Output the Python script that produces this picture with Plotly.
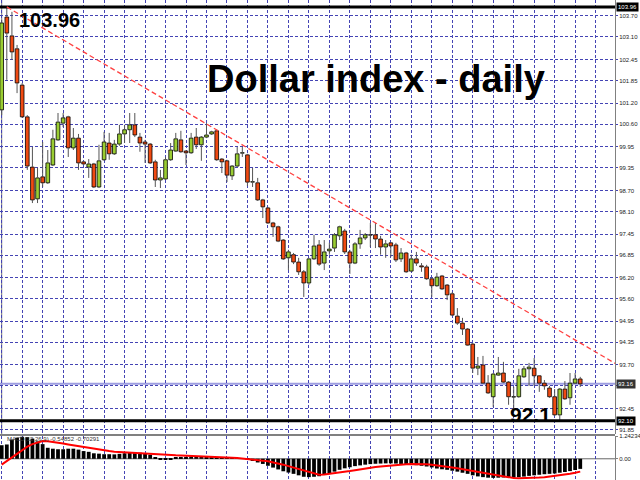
import plotly.graph_objects as go

# ---------------- data ----------------
opens = [101.01, 103.67, 103.13, 102.76, 101.72, 100.81, 99.37, 98.46, 99.09, 98.92,
         99.43, 100.15, 100.63, 100.81, 99.92, 100.20, 99.52, 99.37, 99.46, 98.80,
         99.58, 100.06, 99.75, 100.03, 100.32, 100.44, 100.58, 100.23, 100.09, 100.03,
         99.52, 99.00, 99.03, 99.58, 99.83, 100.15, 99.83, 99.78, 100.23, 100.01,
         100.23, 100.32, 100.41, 99.60, 99.55, 99.12, 99.40, 99.77, 99.72, 98.94,
         98.92, 98.43, 98.20, 97.77, 97.66, 97.28, 96.77, 96.86, 96.65, 96.37,
         96.05, 96.74, 97.14, 96.62, 96.97, 97.05, 97.40, 97.54, 96.94, 96.62,
         97.17, 97.34, 97.42, 97.43, 97.31, 97.08, 97.20, 97.14, 96.74, 96.91,
         96.39, 96.74, 96.54, 96.51, 96.17, 95.97, 96.25, 95.99, 95.74, 95.10,
         94.90, 94.73, 94.30, 93.61, 93.70, 93.18, 92.79, 93.41, 93.47, 93.21,
         92.78, 92.79, 93.36, 93.59, 93.61, 93.39, 93.18, 93.04, 92.79, 92.27,
         93.01, 92.76, 93.18, 93.30]
highs = [103.59, 103.96, 103.82, 102.87, 101.78, 100.86, 99.95, 99.35, 100.09, 99.86,
         100.44, 100.92, 100.92, 100.84, 100.49, 100.32, 99.55, 99.60, 99.49, 100.01,
         100.38, 100.35, 100.15, 100.58, 100.58, 100.92, 100.92, 100.35, 100.15, 100.06,
         99.58, 99.29, 99.66, 100.06, 100.35, 100.41, 99.86, 100.35, 100.49, 100.26,
         100.63, 100.41, 100.44, 99.63, 99.58, 99.43, 99.95, 99.95, 99.75, 99.35,
         99.06, 98.46, 98.23, 97.80, 97.69, 97.31, 97.00, 96.91, 96.77, 96.42,
         96.77, 97.43, 97.28, 97.28, 97.20, 97.48, 97.69, 97.60, 97.00, 97.22,
         97.57, 97.48, 97.77, 97.77, 97.40, 97.28, 97.22, 97.20, 97.05, 96.94,
         96.86, 96.94, 96.62, 96.57, 96.20, 96.34, 96.28, 96.02, 95.79, 95.33,
         95.05, 94.76, 94.33, 93.93, 93.96, 93.41, 93.47, 93.93, 93.79, 93.24,
         93.07, 93.59, 93.67, 93.76, 93.90, 93.41, 93.27, 93.10, 93.01, 93.04,
         93.24, 93.47, 93.47, 93.36]
lows = [100.86, 101.87, 102.44, 101.49, 100.78, 99.29, 98.34, 98.34, 98.80, 98.89,
        99.40, 100.12, 100.52, 99.66, 99.86, 99.29, 99.43, 99.06, 98.77, 98.77,
        99.55, 99.58, 99.72, 99.98, 100.06, 100.06, 100.23, 99.81, 99.49, 99.46,
        98.80, 98.77, 99.00, 99.55, 99.81, 99.78, 99.43, 99.75, 99.89, 99.55,
        100.20, 100.29, 99.55, 99.20, 98.94, 99.00, 99.37, 99.66, 98.83, 98.80,
        98.40, 97.91, 97.74, 97.37, 97.22, 96.71, 96.42, 96.59, 96.28, 95.65,
        95.99, 96.71, 96.54, 96.42, 96.86, 96.94, 97.28, 96.88, 96.31, 96.59,
        97.03, 97.28, 97.08, 97.05, 96.86, 96.77, 96.80, 96.65, 96.65, 96.34,
        96.37, 96.54, 96.37, 96.14, 95.65, 95.94, 95.85, 95.56, 95.10, 94.85,
        94.56, 94.25, 93.47, 93.41, 93.16, 92.87, 92.50, 93.39, 93.18, 92.56,
        92.35, 92.76, 93.33, 93.10, 93.10, 92.93, 92.99, 92.76, 92.24, 92.10,
        92.70, 92.56, 93.16, 93.07]
closes = [103.50, 103.21, 102.67, 101.78, 100.81, 99.40, 98.43, 99.06, 98.92, 99.49,
          100.18, 100.66, 100.78, 99.92, 100.20, 99.49, 99.46, 99.46, 98.80, 99.55,
          100.09, 99.75, 100.03, 100.32, 100.44, 100.58, 100.29, 100.06, 100.03, 99.49,
          99.00, 99.06, 99.58, 99.86, 100.18, 99.81, 99.78, 100.20, 100.01, 100.23,
          100.29, 100.38, 99.58, 99.52, 99.14, 99.40, 99.75, 99.78, 98.94, 98.95,
          98.43, 98.23, 97.77, 97.66, 97.25, 96.74, 96.94, 96.65, 96.37, 96.05,
          96.74, 97.11, 96.59, 96.94, 97.02, 97.43, 97.66, 96.94, 96.62, 97.17,
          97.34, 97.43, 97.43, 97.31, 97.08, 97.17, 97.11, 96.71, 96.91, 96.37,
          96.74, 96.62, 96.51, 96.17, 95.97, 96.22, 95.88, 95.71, 95.13, 94.90,
          94.73, 94.27, 93.61, 93.67, 93.18, 92.90, 93.44, 93.47, 93.21, 92.79,
          92.79, 93.39, 93.59, 93.64, 93.39, 93.18, 93.10, 92.79, 92.27, 93.01,
          92.73, 93.18, 93.30, 93.16]

macd_main = [0.74, 0.78, 1.05, 1.15, 1.2, 1.18, 1.1, 0.95, 0.8, 0.6,
             0.55, 0.52, 0.52, 0.55, 0.55, 0.5, 0.42, 0.38, 0.3, 0.28,
             0.25, 0.25, 0.24, 0.27, 0.3, 0.32, 0.33, 0.33, 0.3, 0.22,
             0.05, -0.05, -0.06, -0.03, 0.05, 0.1, 0.1, 0.12, 0.12, 0.12,
             0.1, 0.1, 0.08, 0.05, 0.03, 0.02, 0.02, 0.0, -0.05, -0.12,
             -0.2, -0.28, -0.38, -0.48, -0.58, -0.68, -0.75, -0.82, -0.9, -0.98,
             -1.0, -0.98, -0.95, -0.88, -0.8, -0.7, -0.6, -0.52, -0.46, -0.4,
             -0.36, -0.32, -0.29, -0.27, -0.26, -0.25, -0.25, -0.26, -0.28, -0.3,
             -0.32, -0.35, -0.38, -0.42, -0.47, -0.53, -0.57, -0.6, -0.65, -0.7,
             -0.76, -0.82, -0.9, -0.96, -1.0, -1.03, -1.04, -1.03, -1.02, -1.02,
             -1.03, -1.0, -0.97, -0.93, -0.9, -0.87, -0.84, -0.82, -0.8, -0.76,
             -0.72, -0.67, -0.61, -0.55]
macd_signal = [-0.32, -0.12, 0.08, 0.3, 0.5, 0.66, 0.8, 0.9, 0.97, 0.96,
               0.93, 0.88, 0.83, 0.78, 0.73, 0.68, 0.63, 0.58, 0.53, 0.49,
               0.45, 0.42, 0.39, 0.37, 0.35, 0.33, 0.31, 0.29, 0.27, 0.25,
               0.24, 0.22, 0.21, 0.2, 0.19, 0.18, 0.17, 0.16, 0.16, 0.15,
               0.15, 0.13, 0.11, 0.09, 0.07, 0.06, 0.04, 0.02, 0.0, -0.03,
               -0.06, -0.1, -0.14, -0.19, -0.25, -0.32, -0.4, -0.48, -0.57, -0.66,
               -0.74, -0.81, -0.87, -0.86, -0.83, -0.8, -0.76, -0.72, -0.67, -0.62,
               -0.57, -0.53, -0.49, -0.45, -0.42, -0.39, -0.36, -0.33, -0.31, -0.3,
               -0.29, -0.28, -0.29, -0.3, -0.32, -0.35, -0.38, -0.42, -0.47, -0.52,
               -0.57, -0.62, -0.67, -0.73, -0.78, -0.83, -0.88, -0.93, -0.98, -1.02,
               -1.05, -1.06, -1.06, -1.05, -1.04, -1.02, -1.0, -0.97, -0.94, -0.9,
               -0.86, -0.81, -0.76, -0.70]

price_ticks = [103.70, 103.10, 102.45, 101.85, 101.20, 100.60, 99.95, 99.35, 98.70, 98.10,
               97.45, 96.85, 96.20, 95.60, 94.95, 94.35, 93.70, 93.10, 92.45, 91.85]
hidden_tick = 93.10   # its label sits under the bid-price box
macd_ticks = [1.24234, 0.0, -1.15585]
macd_tick_text = ["1.24234", "0.00", "-1.15585"]
level_lines = [103.96, 92.10]
bid_price = 93.16
trend_idx = [1, 73]
trend_price = [103.96, 97.77]
title_text = "Dollar index - daily"
high_text = "103.96"
low_text = "92.1"
macd_label = "MACD(12,26,9) -0.54852 -0.70291"

# ---------------- styling ----------------
W, H = 640, 480
R = 25
PLOT_W = W - R
MAIN_BOTTOM_PX = 434
MACD_TOP_PX = 436
PX_PER_UNIT = 34.9
Y_TOP = 104.158
X0 = -0.33
X1 = X0 + PLOT_W / 5.12
UP = "#9acd32"
DOWN = "#f04a12"
GRID = "#4444b4"
FONT = "Liberation Sans"

n = len(closes)
idx = list(range(n))

fig = go.Figure()

# wicks (upper and lower parts, so they don't cross bodies)
wx, wy = [], []
for i, o, h, l, c in zip(idx, opens, highs, lows, closes):
    top, bot = max(o, c), min(o, c)
    wx += [i, i, None, i, i, None]
    wy += [h, top, None, bot, l, None]
fig.add_trace(go.Scatter(x=wx, y=wy, mode="lines", line=dict(color="#555555", width=1),
                         hoverinfo="skip", xaxis="x", yaxis="y"))

bases = [min(o, c) for o, c in zip(opens, closes)]
heights = [max(abs(c - o), 0.012) for o, c in zip(opens, closes)]
colors = [UP if c >= o else DOWN for o, c in zip(opens, closes)]
fig.add_trace(go.Bar(x=idx, y=heights, base=bases, width=0.72,
                     marker=dict(color=colors, line=dict(color="black", width=0.8)),
                     xaxis="x", yaxis="y"))

# MACD
fig.add_trace(go.Bar(x=idx[:len(macd_main)], y=macd_main, width=0.74,
                     marker=dict(color="black", line=dict(width=0)),
                     xaxis="x2", yaxis="y2"))
fig.add_trace(go.Scatter(x=idx[:len(macd_signal)], y=macd_signal, mode="lines",
                         line=dict(color="#ff0000", width=2), xaxis="x2", yaxis="y2"))

main_dom = [1 - MAIN_BOTTOM_PX / H, 1]
macd_dom = [0, 1 - MACD_TOP_PX / H]
grid_x = list(range(0, n + 8, 4))

axis_common = dict(showgrid=True, gridcolor=GRID, griddash="3px,2px", gridwidth=1,
                   zeroline=False)
fig.update_layout(
    width=W, height=H, margin=dict(l=0, r=R, t=0, b=0, autoexpand=False),
    plot_bgcolor="white", paper_bgcolor="white", showlegend=False,
    barmode="overlay",
    xaxis=dict(domain=[0, 1], range=[X0, X1], anchor="y", tickvals=grid_x,
               showticklabels=False, ticks="", **axis_common),
    xaxis2=dict(domain=[0, 1], range=[X0, X1], anchor="y2", matches="x", tickvals=grid_x,
                showticklabels=False, ticks="", **axis_common),
    yaxis=dict(domain=main_dom, range=[Y_TOP - MAIN_BOTTOM_PX / PX_PER_UNIT, Y_TOP],
               side="right", tickvals=price_ticks,
               ticktext=["" if v == hidden_tick else "%.2f" % v for v in price_ticks],
               tickfont=dict(family=FONT, size=6, color="#222222"),
               ticks="outside", ticklen=2, tickcolor=GRID, automargin=False,
               showline=True, linecolor="#808080", linewidth=1, **axis_common),
    yaxis2=dict(domain=macd_dom, range=[macd_ticks[2], macd_ticks[0]], side="right",
                tickvals=macd_ticks, ticktext=macd_tick_text,
                tickfont=dict(family=FONT, size=6, color="#222222"),
                ticks="outside", ticklen=2, tickcolor="#808080", automargin=False,
                showline=True, linecolor="#808080", linewidth=1,
                showgrid=False, zeroline=False),
)

shapes = []
# left border line at first candle
shapes.append(dict(type="line", xref="x", yref="paper", x0=0, x1=0, y0=main_dom[0], y1=1,
                   line=dict(color="#777777", width=1), layer="below"))
# MACD zero line
shapes.append(dict(type="line", xref="paper", yref="y2", x0=0, x1=1, y0=0, y1=0,
                   line=dict(color="#666666", width=1), layer="below"))
# separator between panels
shapes.append(dict(type="rect", xref="paper", yref="paper", x0=0, x1=1,
                   y0=1 - (MAIN_BOTTOM_PX + 2) / H, y1=1 - MAIN_BOTTOM_PX / H,
                   fillcolor="#808080", line=dict(width=0)))
# bid line
shapes.append(dict(type="line", xref="paper", yref="y", x0=0, x1=1, y0=bid_price, y1=bid_price,
                   line=dict(color="#9d9de0", width=2), layer="below"))
# thick level lines
for lv in level_lines:
    shapes.append(dict(type="line", xref="paper", yref="y", x0=0, x1=1, y0=lv, y1=lv,
                       line=dict(color="black", width=3)))
# trend line (ray to the right edge)
slope = (trend_price[1] - trend_price[0]) / (trend_idx[1] - trend_idx[0])
y_end = trend_price[0] + slope * (X1 - trend_idx[0])
shapes.append(dict(type="line", xref="x", yref="y", x0=trend_idx[0], y0=trend_price[0],
                   x1=X1, y1=y_end, line=dict(color="#ff4040", width=1.3, dash="5px,3px")))
fig.update_layout(shapes=shapes)

ann = []
def px_x(p):
    return p / PLOT_W
def px_y(p):
    return 1 - p / H

ann.append(dict(text="<b>%s</b>" % title_text, xref="paper", yref="paper",
                x=px_x(376), y=px_y(79), showarrow=False, xanchor="center", yanchor="middle",
                font=dict(family=FONT, size=38, color="black")))
ann.append(dict(text="<b>%s</b>" % high_text, xref="paper", yref="paper",
                x=px_x(49), y=px_y(20), showarrow=False, xanchor="center", yanchor="middle",
                font=dict(family=FONT, size=20, color="black")))
ann.append(dict(text="<b>%s</b>" % low_text, xref="paper", yref="paper",
                x=px_x(530), y=px_y(414), showarrow=False, xanchor="center", yanchor="middle",
                font=dict(family=FONT, size=21, color="black")))
ann.append(dict(text=macd_label, xref="paper", yref="paper",
                x=px_x(5), y=px_y(439), showarrow=False, xanchor="left", yanchor="middle",
                font=dict(family=FONT, size=6, color="#333333")))
# price boxes on the axis
for lv, bg in [(level_lines[0], "black"), (bid_price, "#333333"), (level_lines[1], "black")]:
    ann.append(dict(text="%.2f" % lv, xref="paper", yref="y", x=1, y=lv, xshift=1,
                    showarrow=False, xanchor="left", yanchor="middle", bgcolor=bg,
                    borderpad=1, font=dict(family=FONT, size=6, color="white")))
fig.update_layout(annotations=ann)

fig.write_html("out.html", config={"displayModeBar": False},
               post_script="document.body.style.margin='0';document.body.style.overflow='hidden';")
